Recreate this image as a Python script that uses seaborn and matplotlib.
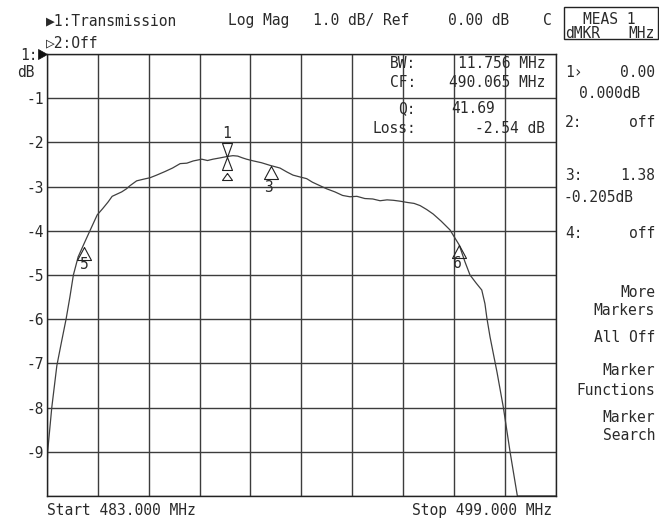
import numpy as np
import matplotlib
matplotlib.use('Agg')
import matplotlib.pyplot as plt
from matplotlib.path import Path
from matplotlib.patches import Rectangle
import seaborn as sns

# Transmission trace (MHz, dB)
freq_mhz = [483.00, 483.02, 483.15, 483.31, 483.46, 483.60, 483.72, 483.83, 483.98, 484.16,
            484.35, 484.58, 484.75, 484.92, 485.05, 485.14, 485.35, 485.50, 485.61, 485.82,
            486.05, 486.24, 486.45, 486.71, 486.95, 487.19, 487.40, 487.60, 487.87, 488.05,
            488.22, 488.45, 488.66, 488.85, 489.00, 489.15, 489.28, 489.50, 489.75, 490.02,
            490.33, 490.55, 490.74, 490.95, 491.17, 491.35, 491.53, 491.80, 492.06, 492.30,
            492.53, 492.75, 493.00, 493.25, 493.48, 493.70, 493.90, 494.11, 494.35, 494.55,
            494.74, 494.95, 495.15, 495.40, 495.68, 495.85, 495.97, 496.15, 496.31, 496.50,
            496.68, 496.78, 496.84, 496.94, 497.16, 497.36, 497.57, 497.80, 499.00]
trans_db = [-9.45, -9.00, -8.00, -7.05, -6.50, -6.00, -5.50, -5.00, -4.59, -4.30,
            -4.00, -3.64, -3.50, -3.35, -3.22, -3.19, -3.12, -3.05, -2.98, -2.87,
            -2.83, -2.80, -2.74, -2.66, -2.58, -2.48, -2.47, -2.42, -2.38, -2.41,
            -2.38, -2.35, -2.32, -2.30, -2.31, -2.35, -2.38, -2.42, -2.46, -2.52,
            -2.58, -2.67, -2.74, -2.78, -2.82, -2.90, -2.96, -3.05, -3.12, -3.20,
            -3.23, -3.22, -3.27, -3.28, -3.32, -3.30, -3.31, -3.33, -3.36, -3.38,
            -3.43, -3.52, -3.62, -3.78, -3.98, -4.18, -4.32, -4.70, -5.00, -5.18,
            -5.34, -5.65, -5.97, -6.40, -7.20, -8.00, -9.00, -10.00, -10.00]

start_mhz = 483.0
stop_mhz = 499.0
ref_db = 0.0
scale_db = 1.0
n_div = 10

# markers on the trace
marker_ids = ['1', '3', '5', '6']
marker_mhz = [488.66, 490.04, 484.16, 495.97]
marker_db = [-2.33, -2.525, -4.36, -4.32]

# filter readout
bw_labels = ['BW:', 'CF:', 'Q:', 'Loss:']
bw_values = ['11.756 MHz', '490.065 MHz', '41.69', '-2.54 dB']

W, H = 659, 519
DPI = 100
TXT = '#2a2a2a'
FS = 10.5

sns.set_style('white')
plt.rcParams['font.family'] = ['DejaVu Sans Mono', 'DejaVu Sans']
plt.rcParams['axes.unicode_minus'] = False

fig = plt.figure(figsize=(W / DPI, H / DPI), dpi=DPI)
ax = fig.add_axes([47 / W, 1 - 496 / H, (555.5 - 47) / W, (496 - 54) / H])

sns.lineplot(x=freq_mhz, y=trans_db, ax=ax, color='#404040', linewidth=0.9,
             estimator=None, sort=False)

ax.set_xlim(start_mhz, stop_mhz)
ax.set_ylim(ref_db - n_div * scale_db, ref_db)
ax.set_xticks(np.linspace(start_mhz, stop_mhz, n_div + 1))
yt = np.arange(ref_db - n_div * scale_db, ref_db + 0.5 * scale_db, scale_db)
ax.set_yticks(yt)
ax.set_yticklabels(['' if (v == yt[0] or v == yt[-1]) else '%d' % v for v in yt],
                   fontsize=FS, color=TXT)
ax.grid(True, color='#3c3c3c', linewidth=1.0)
ax.tick_params(length=0, labelbottom=False, pad=2.0)
ax.set_xlabel('')
ax.set_ylabel('')
for sp in ax.spines.values():
    sp.set_color('#222222')
    sp.set_linewidth(1.0)


def px_marker(segments):
    # build a marker whose vertices are given in pixels, apex at the origin
    verts, codes = [], []
    for seg in segments:
        for i, v in enumerate(seg):
            verts.append(v)
            codes.append(Path.MOVETO if i == 0 else Path.LINETO)
    verts = np.array(verts, dtype=float)
    r = np.abs(verts).max()
    return Path(verts, codes), 2 * r * 72 / DPI


tri = [(0, 0), (-7, -13), (7, -13), (0, 0)]
main_m = [[(0, 0), (-5, 14), (5, 14), (0, 0)],
          [(0, 0), (-5, -13), (5, -13), (0, 0)],
          [(0, -16), (-5, -23), (5, -23), (0, -16)]]
label_off = {'1': (0, 23), '3': (-2, -22), '5': (0, -18), '6': (-2, -19)}

for mid, mf, md in zip(marker_ids, marker_mhz, marker_db):
    path, size = px_marker(main_m if mid == '1' else [tri])
    ax.plot([mf], [md], marker=path, markersize=size, markerfacecolor='none',
            markeredgecolor='#222222', markeredgewidth=0.8, linestyle='none')
    dx, dy = label_off[mid]
    ax.annotate(mid, (mf, md), xytext=(dx * 72 / DPI, dy * 72 / DPI),
                textcoords='offset points', ha='center', va='center',
                fontsize=FS, color=TXT)

# reference level arrow at the left edge
ref_path, ref_size = px_marker([[(0, 0), (-9, 5), (-9, -5), (0, 0)]])
ax.plot([start_mhz], [ref_db], marker=ref_path, markersize=ref_size,
        color='#111111', markeredgewidth=0.5, clip_on=False, linestyle='none')


def put(x, y, s, ha='left'):
    fig.text(x / W, 1 - (y + 5.3) / H, s, ha=ha, va='baseline', fontsize=FS, color=TXT)


# header
put(46, 20, '\u25b61:Transmission')
put(228, 20, 'Log Mag')
put(313, 20, '1.0 dB/ Ref')
put(448, 20, '0.00 dB')
put(543, 20, 'C')
put(46, 42, '\u25b72:Off')
put(38, 55, '1:', ha='right')
put(17, 72, 'dB')

# filter readout inside the grid
for lab, val, y in zip(bw_labels, bw_values, [63, 82, 108, 128]):
    put(416, y, lab, ha='right')
    put(495 if val == '41.69' else 545, y, val, ha='right')

# softkey panel
fig.patches.append(Rectangle((564 / W, 1 - 39 / H), 94 / W, 32 / H, transform=fig.transFigure,
                             fill=False, edgecolor='#222222', linewidth=1.0))
put(583, 19, 'MEAS 1')
put(565, 33, 'dMKR')
put(655, 33, 'MHz', ha='right')

put(565, 72, '1\u203a')
put(655, 72, '0.00', ha='right')
put(640, 93, '0.000dB', ha='right')
put(565, 122, '2:')
put(655, 122, 'off', ha='right')
put(565, 175, '3:')
put(655, 175, '1.38', ha='right')
put(633, 197, '-0.205dB', ha='right')
put(565, 233, '4:')
put(655, 233, 'off', ha='right')
for s, y in [('More', 292), ('Markers', 310), ('All Off', 337), ('Marker', 370),
             ('Functions', 390), ('Marker', 417), ('Search', 435)]:
    put(655, y, s, ha='right')

put(47, 509.5, 'Start %.3f MHz' % start_mhz)
put(552, 509.5, 'Stop %.3f MHz' % stop_mhz, ha='right')

fig.savefig('out.png', dpi=DPI)
